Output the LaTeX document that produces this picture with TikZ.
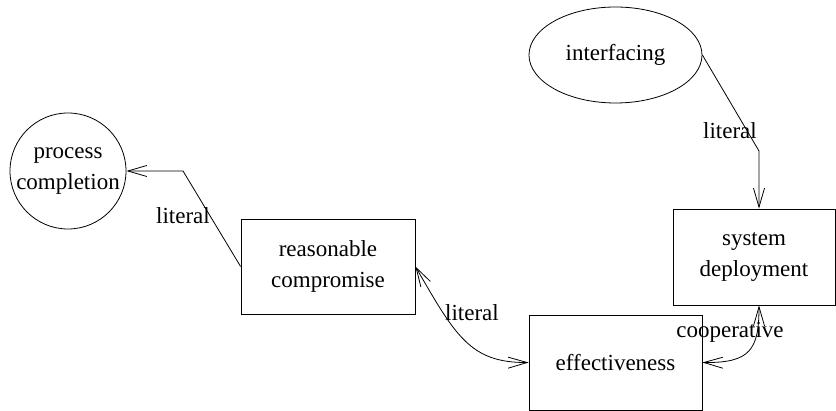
\documentclass[tikz,border=0pt]{standalone}
\usepackage{fontspec}
\setmainfont{Liberation Serif}
\usetikzlibrary{shapes.geometric,arrows.meta}
\begin{document}
\begin{tikzpicture}[x=1pt,y=-1pt,
  every node/.style={font=\fontsize{23}{31}\selectfont, align=center, inner sep=0pt},
  boxnode/.style={draw, rectangle, line width=0.8pt},
  circnode/.style={draw, circle, line width=0.8pt, minimum size=116pt},
  ellnode/.style={draw, ellipse, line width=0.8pt, minimum width=173pt, minimum height=96pt},
  conn/.style={line width=0.8pt, -{Straight Barb[length=19pt,width=11pt]}},
  biconn/.style={line width=0.8pt, {Straight Barb[length=19pt,width=11pt]}-{Straight Barb[length=19pt,width=11pt]}},
  lbl/.style={}]
\useasboundingbox (0,0) rectangle (836,411);
\node[circnode] (pc) at (68,171) {process\\completion};
\node[boxnode, minimum width=174pt, minimum height=95pt] (rc) at (328,266.5) {reasonable\\compromise};
\node[ellnode] (itf) at (615.5,55) {interfacing};
\node[boxnode, minimum width=162pt, minimum height=96pt] (sd) at (754,257) {system\\deployment};
\node[boxnode, minimum width=173pt, minimum height=95pt] (eff) at (615.5,362.5) {effectiveness};
\coordinate (c1) at (183,171);
\coordinate (c2) at (759,151);
\draw[conn] (rc.west) -- (c1) -- (pc.east);
\draw[conn] (itf.east) -- (c2) -- (c2 |- sd.north);
\draw[biconn] (rc.east) .. controls (455,335) and (470,363) .. (eff.west);
\draw[biconn] (eff.east) .. controls (750,363) and (759,350) .. (c2 |- sd.south);
\node[lbl] (l1) at (183,216) {literal};
\node[lbl] (l2) at (730,131) {literal};
\node[lbl] (l3) at (472,313) {literal};
\node[lbl] (l4) at (730,332) {cooperative};
\end{tikzpicture}
\end{document}
